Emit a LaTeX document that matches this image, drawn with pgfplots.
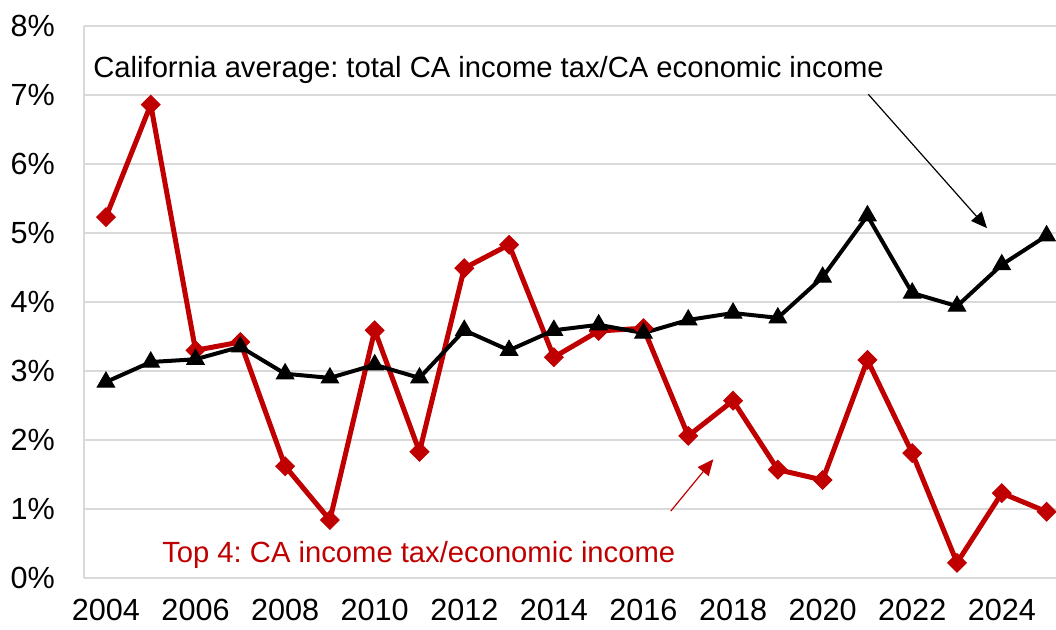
\documentclass[border=0pt]{standalone}
\usepackage{pgfplots}
\pgfplotsset{compat=1.18}
\usepackage{fontspec}
\setmainfont{Liberation Sans}
\usetikzlibrary{arrows.meta}
\definecolor{topred}{RGB}{192,0,0}
\definecolor{gridgray}{RGB}{217,217,217}
\frenchspacing
\begin{document}
\begin{tikzpicture}
\begin{axis}[
  name=ax,
  at={(0,0)}, anchor=south west,
  scale only axis,
  width=486pt, height=276pt,
  xmin=2003.51, xmax=2025.21,
  ymin=0, ymax=8,
  xtick={2004,2006,...,2024},
  ytick={0,1,...,8},
  ymajorgrids,
  major grid style={gridgray, line width=0.75pt},
  axis line style={gridgray, line width=0.75pt},
  axis x line*=bottom,
  axis y line*=left,
  x axis line style={-},
  y axis line style={-},
  major tick length=0pt,
  tick style={draw=none},
  xticklabel style={font=\fontsize{15.3}{18}\selectfont, yshift=-7pt},
  yticklabel style={font=\fontsize{15.3}{18}\selectfont, xshift=-11pt},
  /pgf/number format/assume math mode=true,
  /pgf/number format/set thousands separator={},
  yticklabel={\pgfmathprintnumber{\tick}\%},
  clip=false,
]
\addplot[topred, line width=2.5pt, mark=square*, mark size=3.3pt,
  mark options={rotate=45, fill=topred, draw=topred, line width=0.5pt}]
coordinates {
(2004,5.23) (2005,6.86) (2006,3.30) (2007,3.42) (2008,1.62) (2009,0.84)
(2010,3.59) (2011,1.83) (2012,4.49) (2013,4.83) (2014,3.20) (2015,3.58)
(2016,3.62) (2017,2.06) (2018,2.57) (2019,1.57) (2020,1.42) (2021,3.16)
(2022,1.81) (2023,0.22) (2024,1.23) (2025,0.96)
};
\addplot[black, line width=2pt, mark=triangle*, mark size=5pt,
  mark options={fill=black, draw=black, line width=0.5pt}]
coordinates {
(2004,2.84) (2005,3.13) (2006,3.17) (2007,3.35) (2008,2.96) (2009,2.90)
(2010,3.09) (2011,2.90) (2012,3.59) (2013,3.30) (2014,3.59) (2015,3.67)
(2016,3.55) (2017,3.74) (2018,3.84) (2019,3.77) (2020,4.36) (2021,5.25)
(2022,4.13) (2023,3.94) (2024,4.54) (2025,4.96)
};
\node[anchor=west, inner sep=0pt, font=\fontsize{14.6}{17}\selectfont]
  at (axis cs:2003.71,7.36) {California average: total CA income tax/CA economic income};
\node[anchor=west, inner sep=0pt, text=topred, font=\fontsize{14.6}{17}\selectfont]
  at (axis cs:2005.25,0.33) {Top 4: CA income tax/economic income};
\draw[black, line width=0.6pt, -{Triangle[length=8pt,width=7pt]}]
  (axis cs:2021.02,7.01) -- (axis cs:2023.67,5.07);
\draw[topred, line width=0.6pt, -{Triangle[length=8pt,width=7pt]}]
  (axis cs:2016.61,0.97) -- (axis cs:2017.56,1.72);
\end{axis}
\pgfresetboundingbox
\useasboundingbox (ax.south west) ++(-42pt,-26pt) rectangle ++(528pt,315pt);
\end{tikzpicture}
\end{document}
